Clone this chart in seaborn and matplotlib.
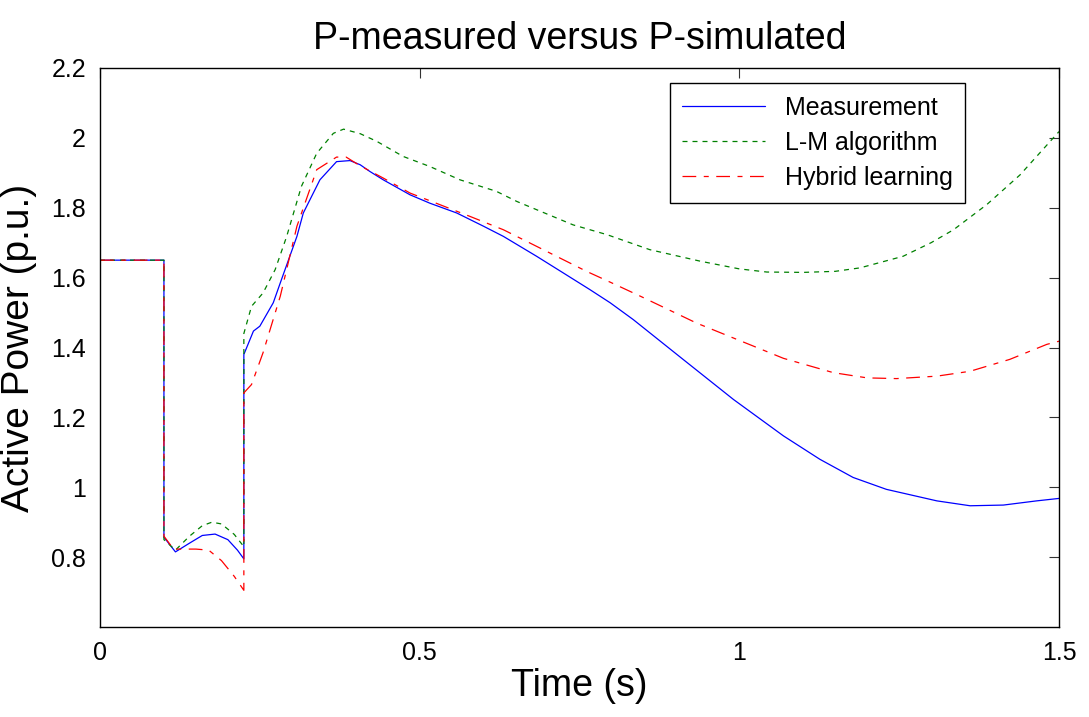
import numpy as np
import pandas as pd
import matplotlib
matplotlib.use("Agg")
import matplotlib.pyplot as plt
import seaborn as sns

# ---- data ----
t_meas = [0, 0.1, 0.1, 0.118, 0.14, 0.16, 0.18, 0.2, 0.215, 0.225, 0.225, 0.24, 0.25, 0.271, 0.282,
          0.308, 0.318, 0.344, 0.37, 0.391, 0.407, 0.422, 0.443, 0.485, 0.516, 0.558, 0.6, 0.631,
          0.683, 0.725, 0.766, 0.798, 0.834, 0.912, 0.991, 1.069, 1.126, 1.178, 1.23, 1.309, 1.361,
          1.413, 1.465, 1.5]
p_meas = [1.65, 1.65, 0.857, 0.815, 0.84, 0.862, 0.866, 0.85, 0.82, 0.795, 1.38, 1.447, 1.461, 1.528, 1.585,
          1.718, 1.785, 1.88, 1.932, 1.935, 1.923, 1.904, 1.88, 1.837, 1.813, 1.785, 1.747, 1.718,
          1.661, 1.613, 1.566, 1.528, 1.48, 1.366, 1.251, 1.147, 1.08, 1.028, 0.994, 0.961, 0.947,
          0.949, 0.961, 0.968]

t_lm = [0, 0.1, 0.1, 0.118, 0.14, 0.16, 0.175, 0.19, 0.21, 0.225, 0.225, 0.237, 0.255, 0.274, 0.292,
        0.315, 0.339, 0.365, 0.381, 0.407, 0.433, 0.474, 0.516, 0.563, 0.62, 0.652, 0.74, 0.793, 0.86,
        0.939, 1.0, 1.043, 1.1, 1.15, 1.189, 1.256, 1.3, 1.335, 1.387, 1.439, 1.5]
p_lm = [1.65, 1.65, 0.85, 0.82, 0.86, 0.89, 0.9, 0.895, 0.865, 0.83, 1.44, 1.518, 1.556, 1.623, 1.718,
        1.861, 1.956, 2.013, 2.025, 2.012, 1.99, 1.947, 1.918, 1.88, 1.847, 1.818, 1.751, 1.723, 1.68,
        1.647, 1.625, 1.616, 1.615, 1.618, 1.628, 1.661, 1.7, 1.737, 1.809, 1.894, 2.018]

t_hyb = [0, 0.1, 0.1, 0.115, 0.15, 0.17, 0.19, 0.21, 0.225, 0.225, 0.237, 0.255, 0.282, 0.308, 0.339,
         0.37, 0.385, 0.407, 0.443, 0.485, 0.53, 0.579, 0.631, 0.678, 0.714, 0.761, 0.798, 0.845,
         0.933, 1.022, 1.069, 1.147, 1.2, 1.246, 1.309, 1.361, 1.423, 1.481, 1.5]
p_hyb = [1.65, 1.65, 0.86, 0.823, 0.823, 0.82, 0.79, 0.745, 0.705, 1.27, 1.294, 1.385, 1.547, 1.747, 1.909,
         1.945, 1.945, 1.92, 1.885, 1.842, 1.81, 1.775, 1.737, 1.694, 1.661, 1.618, 1.587, 1.547,
         1.47, 1.404, 1.369, 1.328, 1.313, 1.311, 1.318, 1.332, 1.366, 1.409, 1.418]

series_names = ["Measurement", "L-M algorithm", "Hybrid learning"]
title = "P-measured versus P-simulated"
xlabel = "Time (s)"
ylabel = "Active Power (p.u.)"
xticks = [0, 0.5, 1, 1.5]
xticklabels = ["0", "0.5", "1", "1.5"]
yticks = [0.8, 1.0, 1.2, 1.4, 1.6, 1.8, 2.0, 2.2]
yticklabels = ["0.8", "1", "1.2", "1.4", "1.6", "1.8", "2", "2.2"]

df = pd.concat([
    pd.DataFrame({"t": t_meas, "p": p_meas, "s": series_names[0]}),
    pd.DataFrame({"t": t_lm, "p": p_lm, "s": series_names[1]}),
    pd.DataFrame({"t": t_hyb, "p": p_hyb, "s": series_names[2]}),
], ignore_index=True)

sns.set_style("white")
plt.rcParams["font.family"] = ["Liberation Sans", "DejaVu Sans"]
plt.rcParams["text.color"] = "black"
plt.rcParams["axes.labelcolor"] = "black"
plt.rcParams["xtick.color"] = "black"
plt.rcParams["ytick.color"] = "black"

fig = plt.figure(figsize=(10.89, 7.17), dpi=100)
ax = fig.add_axes([100 / 1089, 90 / 717, 959 / 1089, 559 / 717])

palette = {series_names[0]: "#0000ff", series_names[1]: "#008000", series_names[2]: "#ff0000"}
dashes = {series_names[0]: "", series_names[1]: (4, 4), series_names[2]: (11, 6, 4, 6)}

sns.lineplot(data=df, x="t", y="p", hue="s", style="s", palette=palette, dashes=dashes,
             estimator=None, sort=False, units="s", linewidth=0.9, ax=ax, legend=True)

ax.set_xlim(0, 1.5)
ax.set_ylim(0.6, 2.2)
ax.set_xticks(xticks)
ax.set_xticklabels(xticklabels)
ax.set_yticks(yticks)
ax.set_yticklabels(yticklabels)
ax.tick_params(direction="in", length=7, width=0.8, labelsize=18, top=True, right=True,
               color="#333333", labelcolor="black", pad=10)
for sp in ax.spines.values():
    sp.set_visible(True)
    sp.set_color("black")
    sp.set_linewidth(1.0)

ax.set_title(title, fontsize=27, pad=14, color="black")
ax.set_xlabel(xlabel, fontsize=27, labelpad=2)
ax.set_ylabel(ylabel, fontsize=28, labelpad=10)

handles, labels = ax.get_legend_handles_labels()
leg = ax.legend(handles, labels, loc="upper right", bbox_to_anchor=(0.902, 0.973),
                borderaxespad=0, fontsize=18, frameon=True, fancybox=False, framealpha=1,
                edgecolor="black", handlelength=3.3, handletextpad=0.8, borderpad=0.5,
                labelspacing=0.45)
leg.get_frame().set_linewidth(1.0)

fig.savefig("out.png", dpi=100)
